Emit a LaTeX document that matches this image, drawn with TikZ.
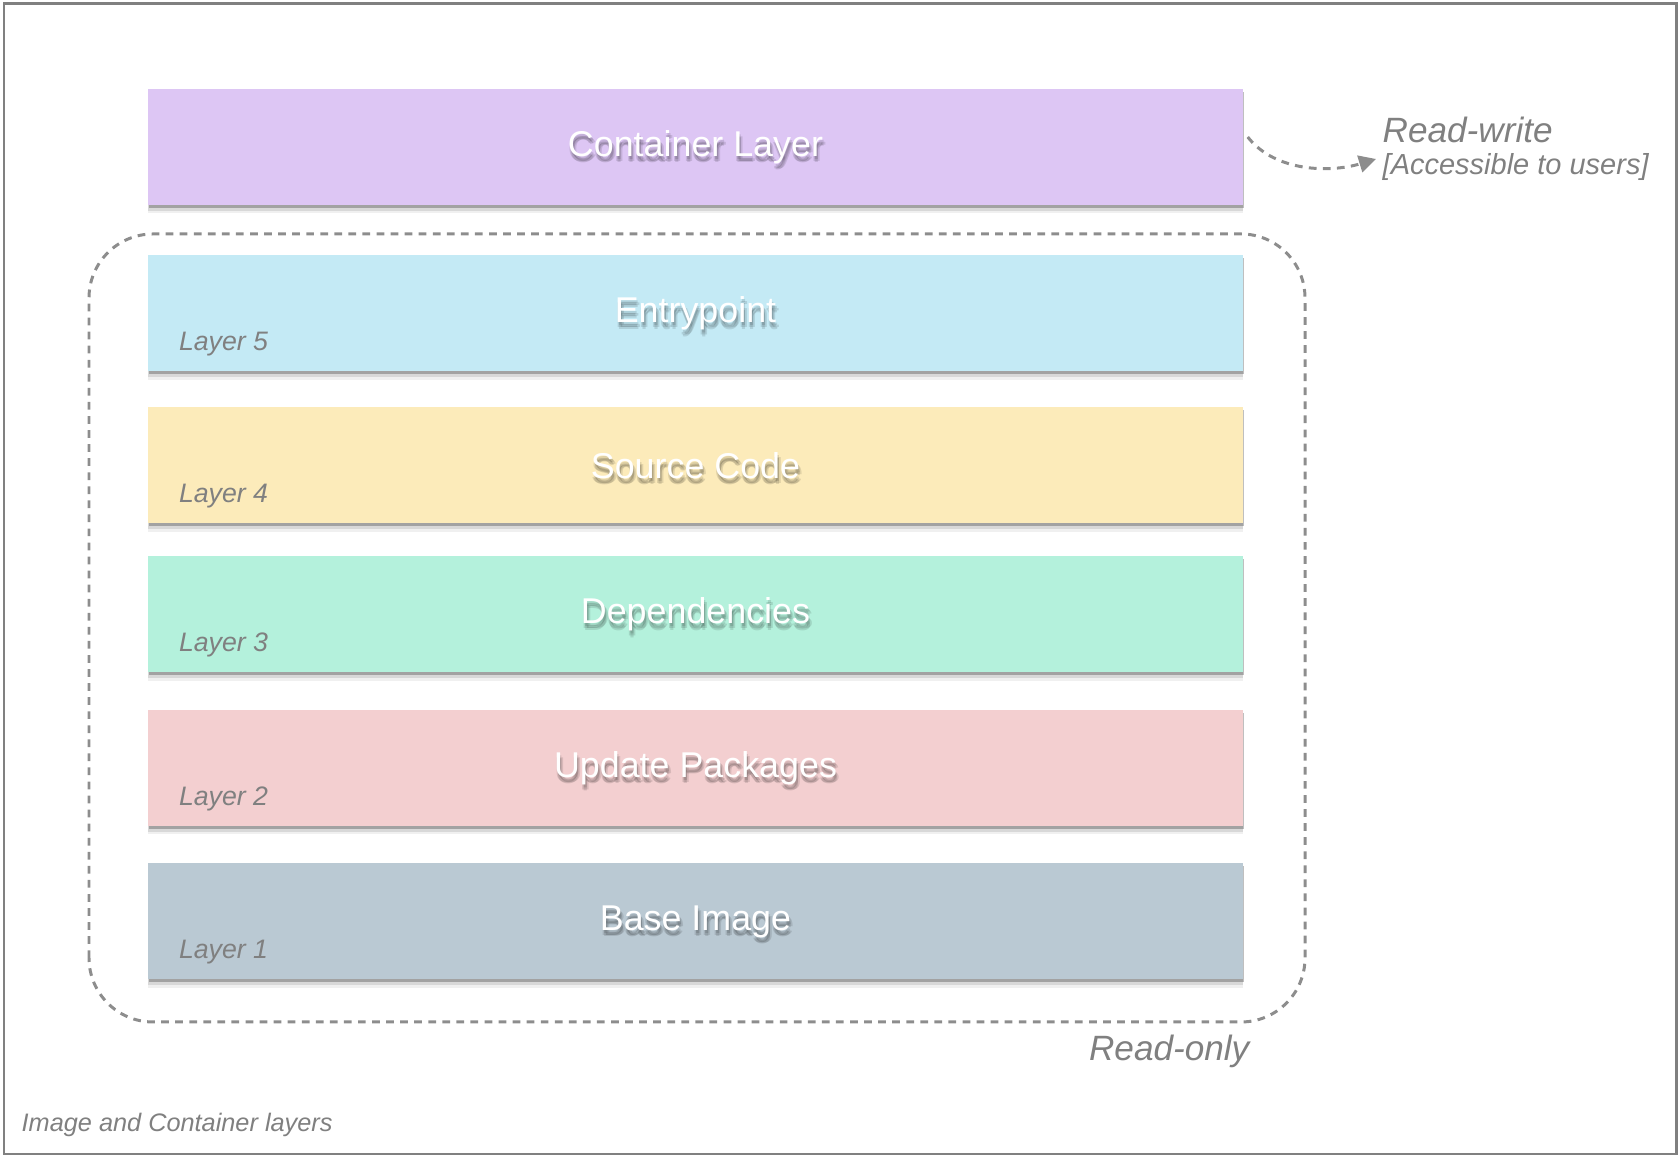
\documentclass[tikz,border=0pt]{standalone}
\usepackage{fontspec}
\setmainfont{Liberation Sans}
\usetikzlibrary{arrows.meta,shadows}
\definecolor{contcol}{HTML}{DDC6F4}
\definecolor{entrycol}{HTML}{C4EAF5}
\definecolor{sourcecol}{HTML}{FCEBBA}
\definecolor{depscol}{HTML}{B4F1DC}
\definecolor{updatecol}{HTML}{F3CFD0}
\definecolor{basecol}{HTML}{BAC9D3}
\definecolor{inkgray}{HTML}{808080}
% one soft copy of a text, drawn behind it in the same box
\newcommand\softcopy[3]{\makebox[0pt][l]{\begin{pgfscope}\pgfsetfillopacity{0.11}%
  \color{black}\hspace*{#1}\raisebox{#2}[0pt][0pt]{#3}\end{pgfscope}}}
\newcommand\glowtext[1]{\softcopy{0.4pt}{-0.9pt}{#1}\softcopy{0pt}{-1.4pt}{#1}%
  \softcopy{0.9pt}{-1.4pt}{#1}\softcopy{0.4pt}{-1.9pt}{#1}#1}
\begin{document}
\begin{tikzpicture}[x=1cm, y=1cm,
   layer/.style={minimum width=10.95cm, minimum height=1.16cm, inner sep=0pt,
     general shadow={shadow yshift=-2.4pt, fill=black, opacity=0.06},
     general shadow={shadow yshift=-1.6pt, fill=black, opacity=0.1},
     general shadow={shadow yshift=-0.8pt, shadow xshift=0.3pt, fill=black, opacity=0.25}},
   title/.style={text=white, font=\fontsize{10.2}{12}\selectfont},
   tag/.style={text=inkgray, inner sep=0pt, font=\fontsize{7.6}{9}\selectfont\itshape},
   note/.style={text=inkgray, inner sep=0pt, font=\fontsize{10}{12}\selectfont\itshape},
   dashline/.style={draw=inkgray!90, line width=0.85pt, dash pattern=on 2.2pt off 1.8pt}]
   \useasboundingbox (0,0) rectangle (16.8,11.58);
   \draw[inkgray, line width=0.85pt] (0.04,0.04) rectangle (16.76,11.54);
   % read-write layer
   \node[layer, fill=contcol] (cont) at (6.955,10.11) {};
   \node[title] (tcont) at (cont.center) {\glowtext{Container Layer}};
   % image layers
   \foreach \n/\yc/\col/\txt in {5/8.445/entrycol/Entrypoint, 4/6.925/sourcecol/Source Code,
       3/5.435/depscol/Dependencies, 2/3.90/updatecol/Update Packages, 1/2.365/basecol/Base Image} {
     \node[layer, fill=\col] (l\n) at (6.955,\yc) {};
     \node[title] (t\n) at (l\n.center) {\glowtext{\txt}};
     \node[tag, anchor=west] (k\n) at ([shift={(0.31,0.28)}]l\n.south west) {Layer \n};
   }
   \draw[dashline, rounded corners=0.64cm] (0.89,1.36) rectangle (13.05,9.24);
   \node[note, anchor=east] (ro) at (12.50,1.07) {Read-only};
   % labels on the right
   \node[note, anchor=west] (rw) at (13.82,10.28) {Read-write};
   \node[text=inkgray, inner sep=0pt, anchor=west, font=\fontsize{8.25}{10}\selectfont\itshape]
     (acc) at (13.82,9.91) {[Accessible to users]};
   \coordinate (tip) at (13.76,9.99);
   \draw[dashline, -{Triangle[length=0.17cm, width=0.17cm]}]
     ([shift={(0.04,0.1)}]cont.east) .. controls (12.75,9.86) and (13.3,9.85) .. (tip);
   \node[text=inkgray, inner sep=0pt, anchor=west, font=\fontsize{7.2}{9}\selectfont\itshape]
     (cap) at (0.21,0.33) {Image and Container layers};
\end{tikzpicture}
\end{document}
